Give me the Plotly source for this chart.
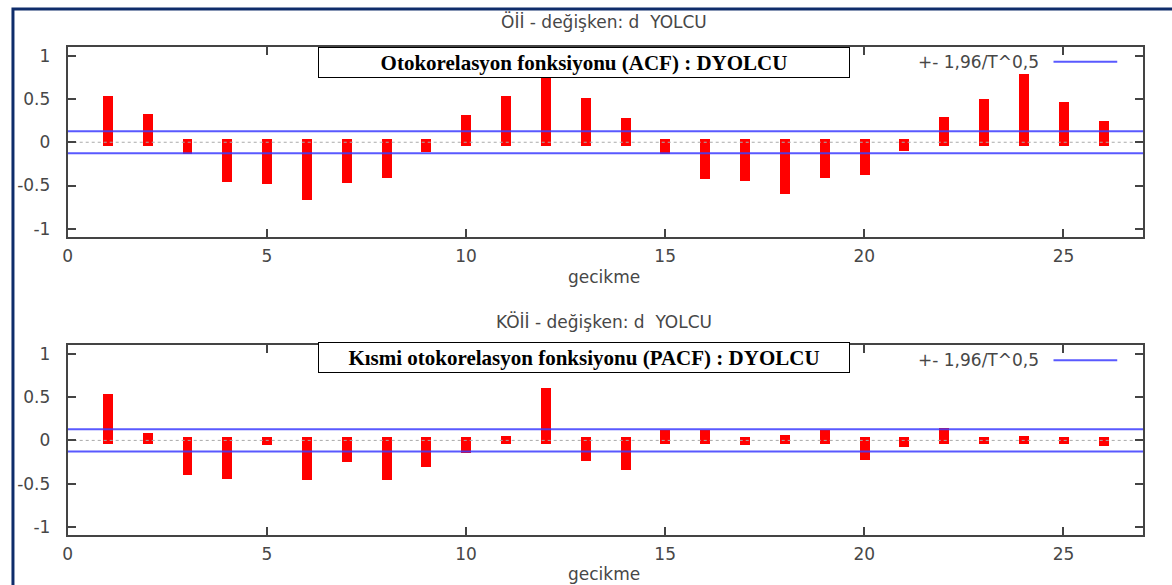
import plotly.graph_objects as go

lags = list(range(1, 27))
acf = [0.50, 0.295, -0.095, -0.42, -0.45, -0.635, -0.43, -0.38, -0.07, 0.285,
       0.50, 0.82, 0.475, 0.245, -0.095, -0.39, -0.405, -0.565, -0.38, -0.335,
       -0.06, 0.255, 0.47, 0.76, 0.43, 0.21]
pacf = [0.50, 0.055, -0.36, -0.405, -0.02, -0.42, -0.21, -0.42, -0.27, -0.11,
        0.02, 0.575, -0.20, -0.305, 0.09, 0.09, -0.02, 0.025, 0.09, -0.19,
        -0.045, 0.11, -0.01, 0.02, -0.01, -0.025]
bound = 0.128
xticks = [0, 5, 10, 15, 20, 25]
xticklabels = ["0", "5", "10", "15", "20", "25"]
yticks = [-1, -0.5, 0, 0.5, 1]
yticklabels = ["-1", "-0.5", "0", "0.5", "1"]
title_top = "Öİİ - değişken: d  YOLCU"
title_bot = "KÖİİ - değişken: d  YOLCU"
box_top = "Otokorelasyon fonksiyonu (ACF) : DYOLCU"
box_bot = "Kısmi otokorelasyon fonksiyonu (PACF) : DYOLCU"
legend_text = "+- 1,96/T^0,5"
xlabel = "gecikme"

W, H = 1172, 585
CAP = 0.035  # gnuplot-like thick impulse overhang
TXT = dict(family="DejaVu Sans", size=17, color="#474747")


def px(x):
    return x / W


def py(y):
    return 1 - y / H


fig = go.Figure()

panels = [
    (acf, "x", "y"),
    (pacf, "x2", "y2"),
]

for vals, xa, ya in panels:
    sgn = [1 if v >= 0 else -1 for v in vals]
    base = [-CAP * s for s in sgn]
    height = [v + 2 * CAP * s for v, s in zip(vals, sgn)]
    fig.add_trace(go.Scatter(x=[0, 27], y=[0, 0], mode="lines", xaxis=xa, yaxis=ya,
                             line=dict(color="#aaaaaa", width=1, dash="dot"),
                             showlegend=False, hoverinfo="skip"))
    fig.add_trace(go.Bar(x=lags, y=height, base=base, width=0.25, xaxis=xa, yaxis=ya,
                         marker=dict(color="#ff0000", line=dict(width=0)),
                         showlegend=False))
    for b in (bound, -bound):
        fig.add_trace(go.Scatter(x=[0, 27], y=[b, b], mode="lines", xaxis=xa, yaxis=ya,
                                 line=dict(color="rgba(60,60,255,0.85)", width=2),
                                 showlegend=False, hoverinfo="skip"))

axis_common = dict(
    showline=True, linecolor="#444444", linewidth=2, mirror="ticks",
    ticks="inside", tickcolor="#444444", tickwidth=2, ticklen=8,
    showgrid=False, zeroline=False, tickfont=TXT,
)
xdom = [px(63), px(1143)]
layout = dict(
    width=W, height=H, plot_bgcolor="white", paper_bgcolor="white",
    margin=dict(l=0, r=0, t=0, b=0), bargap=0, showlegend=False,
    xaxis=dict(axis_common, domain=xdom, range=[0, 27], tickvals=xticks,
               ticktext=xticklabels, anchor="y", ticklabelstandoff=3),
    yaxis=dict(axis_common, domain=[py(237), py(46)], range=[-1.092, 1.103],
               tickvals=yticks, ticktext=yticklabels, anchor="x", ticklabelstandoff=12),
    xaxis2=dict(axis_common, domain=xdom, range=[0, 27], tickvals=xticks,
                ticktext=xticklabels, anchor="y2", ticklabelstandoff=3),
    yaxis2=dict(axis_common, domain=[py(536.7), py(345.7)], range=[-1.092, 1.103],
                tickvals=yticks, ticktext=yticklabels, anchor="x2", ticklabelstandoff=12),
)
fig.update_layout(**layout)

ann = []
shapes = []
for title, box, ty, by, ly, xly in [(title_top, box_top, 21, 62, 61, 277),
                                   (title_bot, box_bot, 322, 358.5, 361, 576)]:
    ann.append(dict(text=title, x=px(602), y=py(ty), xref="paper", yref="paper",
                    showarrow=False, xanchor="center", yanchor="middle", font=TXT))
    ann.append(dict(text="<b>" + box + "</b>", x=px(581), y=py(by), xref="paper", yref="paper",
                    showarrow=False, xanchor="center", yanchor="middle",
                    width=528, height=27, bgcolor="white", bordercolor="black",
                    borderwidth=1, borderpad=1,
                    font=dict(family="Liberation Serif", size=21, color="black")))
    ann.append(dict(text=legend_text, x=px(1040), y=py(ly), xref="paper", yref="paper",
                    showarrow=False, xanchor="right", yanchor="middle", font=TXT))
    ann.append(dict(text=xlabel, x=px(602), y=py(xly), xref="paper", yref="paper",
                    showarrow=False, xanchor="center", yanchor="middle", font=TXT))
    shapes.append(dict(type="line", xref="paper", yref="paper",
                       x0=px(1053), x1=px(1117), y0=py(ly), y1=py(ly),
                       line=dict(color="rgba(60,60,255,0.85)", width=2)))

shapes.append(dict(type="rect", xref="paper", yref="paper",
                   x0=px(8), x1=px(1200), y0=py(640), y1=py(8),
                   line=dict(color="#0f2d6b", width=3), layer="above"))
fig.update_layout(annotations=ann, shapes=shapes)

fig.write_html("out.html", config={"displayModeBar": False},
               post_script="document.body.style.margin='0';"
                           "document.body.style.overflow='hidden';")
